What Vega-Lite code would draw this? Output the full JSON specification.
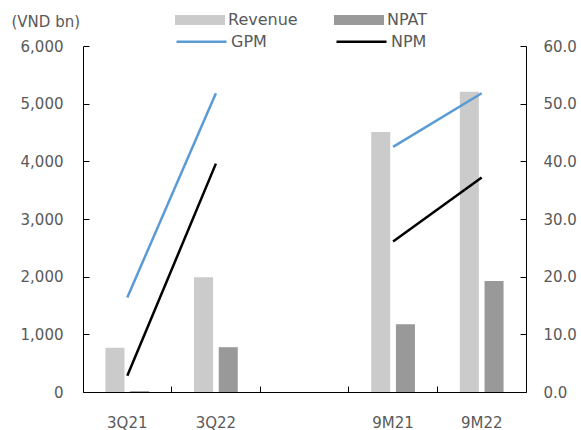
{
  "$schema": "https://vega.github.io/schema/vega-lite/v6.json",
  "autosize": {"type": "none"},
  "padding": {"left": 83, "top": 46, "right": 55, "bottom": 38},
  "width": 443,
  "height": 346,
  "background": "white",
  "config": {
    "view": {"stroke": null},
    "font": "DejaVu Sans",
    "axis": {"grid": false, "labelFont": "DejaVu Sans", "labelFontSize": 15, "labelColor": "#595959", "domainColor": "#000000", "tickColor": "#000000", "domainWidth": 1, "tickWidth": 1},
    "legend": {"labelFont": "DejaVu Sans", "labelFontSize": 16, "labelColor": "#595959"}
  },
  "data": {
    "values": [
      {"period": "3Q21", "grp": "Q", "series": "Revenue", "value": 768},
      {"period": "3Q21", "grp": "Q", "series": "NPAT", "value": 15},
      {"period": "3Q22", "grp": "Q", "series": "Revenue", "value": 1990},
      {"period": "3Q22", "grp": "Q", "series": "NPAT", "value": 777},
      {"period": "9M21", "grp": "M", "series": "Revenue", "value": 4510},
      {"period": "9M21", "grp": "M", "series": "NPAT", "value": 1176},
      {"period": "9M22", "grp": "M", "series": "Revenue", "value": 5208},
      {"period": "9M22", "grp": "M", "series": "NPAT", "value": 1925},
      {"period": "3Q21", "grp": "Q", "series": "GPM", "value": 16.4},
      {"period": "3Q22", "grp": "Q", "series": "GPM", "value": 51.8},
      {"period": "9M21", "grp": "M", "series": "GPM", "value": 42.5},
      {"period": "9M22", "grp": "M", "series": "GPM", "value": 51.8},
      {"period": "3Q21", "grp": "Q", "series": "NPM", "value": 2.8},
      {"period": "3Q22", "grp": "Q", "series": "NPM", "value": 39.6},
      {"period": "9M21", "grp": "M", "series": "NPM", "value": 26.1},
      {"period": "9M22", "grp": "M", "series": "NPM", "value": 37.2}
    ]
  },
  "layer": [
    {
      "transform": [{"filter": "datum.series === 'Revenue' || datum.series === 'NPAT'"}],
      "mark": {"type": "bar"},
      "encoding": {
        "x": {
          "field": "period", "type": "nominal", "sort": null,
          "scale": {"domain": ["3Q21", "3Q22", " ", "9M21", "9M22"], "paddingInner": 0, "paddingOuter": 0},
          "axis": {"title": null, "labelAngle": 0, "ticks": false, "labelPadding": 23, "domain": true, "orient": "bottom"}
        },
        "xOffset": {
          "field": "series", "type": "nominal",
          "scale": {"domain": ["Revenue", "NPAT"], "paddingInner": 0.23, "paddingOuter": 0.908}
        },
        "y": {
          "field": "value", "type": "quantitative",
          "scale": {"domain": [0, 6000], "nice": false},
          "axis": {
            "orient": "left", "values": [0, 1000, 2000, 3000, 4000, 5000, 6000], "format": ",.0f",
            "tickSize": -6, "labelPadding": 26,
            "title": "(VND bn)", "titleAngle": 0, "titleX": -72, "titleY": -25, "titleAlign": "left", "titleBaseline": "middle",
            "titleFontWeight": "normal", "titleFontSize": 15, "titleColor": "#595959", "titleFont": "DejaVu Sans"
          }
        },
        "color": {
          "field": "series", "type": "nominal",
          "scale": {"domain": ["Revenue", "NPAT"], "range": ["#cbcbcb", "#999999"]},
          "legend": {
            "title": null, "orient": "none", "direction": "horizontal", "legendX": 92, "legendY": -51,
            "symbolType": "M-1,-0.2H1V0.2H-1Z", "symbolSize": 2500, "symbolStrokeWidth": 0,
            "labelOffset": 3, "columnPadding": 36
          }
        }
      }
    },
    {
      "transform": [{"filter": "datum.series === 'GPM' || datum.series === 'NPM'"}],
      "mark": {"type": "line", "strokeWidth": 2.5},
      "encoding": {
        "x": {
          "field": "period", "type": "nominal", "sort": null,
          "scale": {"domain": ["3Q21", "3Q22", " ", "9M21", "9M22"], "paddingInner": 0, "paddingOuter": 0},
          "axis": {"title": null, "labels": false, "domain": false, "ticks": true, "tickSize": -6, "bandPosition": 0, "orient": "bottom"}
        },
        "y": {
          "field": "value", "type": "quantitative",
          "scale": {"domain": [0, 60], "nice": false},
          "axis": {"orient": "right", "values": [0, 10, 20, 30, 40, 50, 60], "format": ".1f", "tickSize": -6, "labelPadding": 23, "title": null}
        },
        "stroke": {
          "field": "series", "type": "nominal",
          "scale": {"domain": ["GPM", "NPM"], "range": ["#5b9bd5", "#000000"]},
          "legend": {
            "title": null, "orient": "none", "direction": "horizontal", "legendX": 92, "legendY": -31,
            "symbolType": "stroke", "symbolSize": 2500, "symbolStrokeWidth": 2.5,
            "labelOffset": 3, "columnPadding": 64
          }
        },
        "detail": {"field": "grp", "type": "nominal"}
      }
    }
  ],
  "resolve": {"scale": {"y": "independent", "color": "independent", "stroke": "independent"}, "axis": {"x": "independent"}}
}
